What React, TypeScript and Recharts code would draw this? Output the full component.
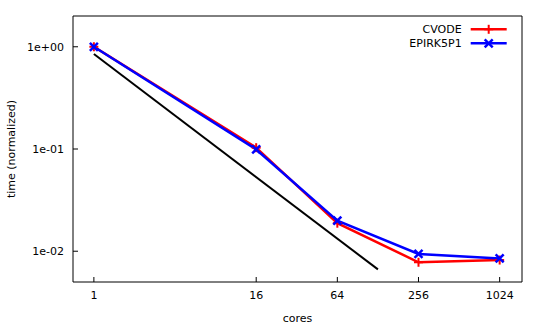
import React from "react";
import {
  ComposedChart,
  Line,
  XAxis,
  YAxis,
  Legend,
} from "recharts";

const FONT = "'DejaVu Sans', sans-serif";
const RED = "#ff0000";
const BLUE = "#0000ff";

const cores = [1, 16, 64, 256, 1024];
const cvode = [1.0, 0.103, 0.0188, 0.0078, 0.0082];
const epirk = [1.0, 0.099, 0.0199, 0.0094, 0.0085];
const idealCores = [1, 128];
const idealTime = [0.85, 0.00664];

const xTicks = [1, 16, 64, 256, 1024];
const yTicks = [1, 0.1, 0.01];

// merged table; points a series doesn't have stay null
const allX = Array.from(new Set([...cores, ...idealCores])).sort((a, b) => a - b);
const data = allX.map((x) => {
  const i = cores.indexOf(x);
  const j = idealCores.indexOf(x);
  return {
    cores: x,
    cvode: i >= 0 ? cvode[i] : null,
    epirk: i >= 0 ? epirk[i] : null,
    ideal: j >= 0 ? idealTime[j] : null,
  };
});

function fmtExp(v: number) {
  const e = Math.round(Math.log10(v));
  return `1e${e < 0 ? "-" : "+"}${String(Math.abs(e)).padStart(2, "0")}`;
}

const tickStyle = { fill: "#000", fontSize: 11, fontFamily: FONT };

function PlusDot(props: any) {
  const { cx, cy, key } = props;
  if (cx == null || cy == null) return <g key={key} />;
  const r = 4.5;
  return (
    <g key={key}>
      <line x1={cx - r} y1={cy} x2={cx + r} y2={cy} stroke={RED} strokeWidth={2} />
      <line x1={cx} y1={cy - r} x2={cx} y2={cy + r} stroke={RED} strokeWidth={2} />
    </g>
  );
}

function CrossDot(props: any) {
  const { cx, cy, key } = props;
  if (cx == null || cy == null) return <g key={key} />;
  const r = 4;
  return (
    <g key={key}>
      <line x1={cx - r} y1={cy - r} x2={cx + r} y2={cy + r} stroke={BLUE} strokeWidth={2.5} />
      <line x1={cx - r} y1={cy + r} x2={cx + r} y2={cy - r} stroke={BLUE} strokeWidth={2.5} />
    </g>
  );
}

function LegendBox({ payload }: any) {
  const rows = (payload || []).filter(
    (p: any) => p.value === "CVODE" || p.value === "EPIRK5P1"
  );
  return (
    <svg width={140} height={44} style={{ display: "block", overflow: "visible" }}>
      {rows.map((p: any, i: number) => {
        const y = 9.3 + i * 14;
        const isCvode = p.value === "CVODE";
        return (
          <g key={p.value}>
            <text
              x={81.7}
              y={y}
              textAnchor="end"
              dominantBaseline="central"
              fontSize={11}
              fontFamily={FONT}
              fill="#000"
            >
              {p.value}
            </text>
            <line x1={90.7} y1={y} x2={126.7} y2={y} stroke={p.color} strokeWidth={2.5} />
            {isCvode ? <PlusDot cx={108.7} cy={y} /> : <CrossDot cx={108.7} cy={y} />}
          </g>
        );
      })}
    </svg>
  );
}

export default function App() {
  return (
    <div style={{ position: "absolute", left: 0, top: 0, fontFamily: FONT }}>
      <ComposedChart
        width={545}
        height={327}
        data={data}
        margin={{ top: 15, right: 22, bottom: 44, left: 72 }}
      >
        <XAxis
          dataKey="cores"
          type="number"
          scale="log"
          domain={[0.7, 1500]}
          allowDataOverflow
          ticks={xTicks}
          height={1}
          tick={tickStyle}
          tickSize={-5}
          tickMargin={14}
          stroke="#000"
          label={{
            content: ({ viewBox }: any) => (
              <text
                x={viewBox.x + viewBox.width / 2}
                y={318}
                textAnchor="middle"
                dominantBaseline="central"
                fontSize={11}
                fontFamily={FONT}
                fill="#000"
              >
                cores
              </text>
            ),
          }}
        />
        <XAxis
          xAxisId="top"
          orientation="top"
          dataKey="cores"
          type="number"
          scale="log"
          domain={[0.7, 1500]}
          allowDataOverflow
          ticks={xTicks}
          height={1}
          tick={false}
          tickSize={-5}
          stroke="#000"
        />
        <YAxis
          type="number"
          scale="log"
          domain={[0.005, 2]}
          allowDataOverflow
          ticks={yTicks}
          tickFormatter={fmtExp}
          width={1}
          tick={tickStyle}
          tickSize={-5}
          tickMargin={14}
          stroke="#000"
          label={{
            content: ({ viewBox }: any) => {
              const cy = viewBox.y + viewBox.height / 2;
              return (
                <text
                  x={11}
                  y={cy}
                  transform={`rotate(-90 11 ${cy})`}
                  textAnchor="middle"
                  dominantBaseline="central"
                  fontSize={11}
                  fontFamily={FONT}
                  fill="#000"
                >
                  time (normalized)
                </text>
              );
            },
          }}
        />
        <YAxis
          yAxisId="right"
          orientation="right"
          type="number"
          scale="log"
          domain={[0.005, 2]}
          allowDataOverflow
          ticks={yTicks}
          width={1}
          tick={false}
          tickSize={-5}
          stroke="#000"
        />
        <Legend
          layout="vertical"
          align="center"
          verticalAlign="middle"
          wrapperStyle={{ position: "absolute", top: 20, left: 380, width: 140 }}
          content={<LegendBox />}
        />
        <Line
          dataKey="cvode"
          name="CVODE"
          stroke={RED}
          strokeWidth={2.5}
          connectNulls
          dot={<PlusDot />}
          activeDot={false}
          isAnimationActive={false}
        />
        <Line
          dataKey="epirk"
          name="EPIRK5P1"
          stroke={BLUE}
          strokeWidth={2.5}
          connectNulls
          dot={<CrossDot />}
          activeDot={false}
          isAnimationActive={false}
        />
        <Line
          dataKey="ideal"
          stroke="#000"
          strokeWidth={2}
          connectNulls
          dot={false}
          activeDot={false}
          legendType="none"
          isAnimationActive={false}
        />
      </ComposedChart>
    </div>
  );
}
